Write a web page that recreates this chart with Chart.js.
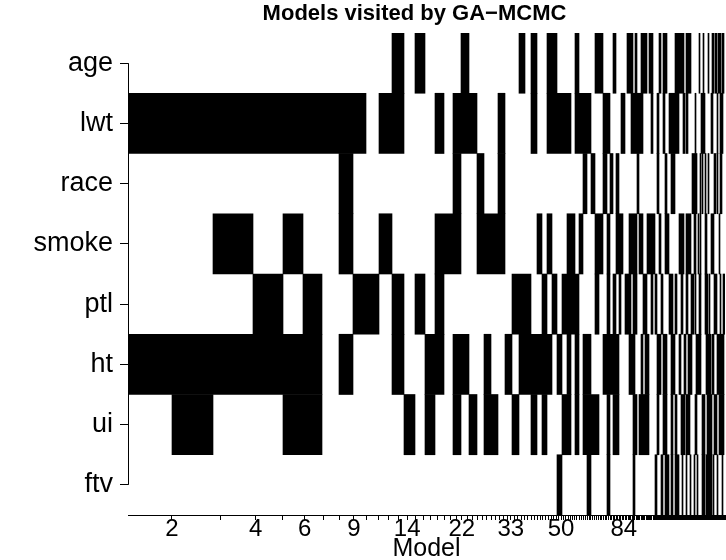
<!DOCTYPE html>
<html>
<head>
<meta charset="utf-8">
<script src="https://cdn.jsdelivr.net/npm/chart.js@4.4.1/dist/chart.umd.min.js"></script>
<style>
  html, body { margin: 0; padding: 0; background: #fff; }
  #wrap { width: 726px; height: 560px; }
</style>
</head>
<body>
<div id="wrap"><canvas id="chart" width="726" height="560"></canvas></div>
<script>
// rows, top to bottom
const variables = ["age", "lwt", "race", "smoke", "ptl", "ht", "ui", "ftv"];

// visits per model, models sorted by how often the sampler hit them
const modelFreq = [
  44, 41, 40, 30, 20, 19, 17, 14, 13, 13,
  13, 12, 11, 10, 10, 9, 9, 8, 8, 8,
  7, 7, 7, 7, 7, 7, 6, 6, 6, 5,
  5, 5, 5, 5, 5, 4, 4, 4, 4, 4,
  4, 4, 4, 4, 4, 3, 3, 3, 3, 2,
  2, 2, 2, 2, 2, 2, 2, 2, 2, 2,
  2, 2, 2, 2, 2, 2, 2, 2, 2, 2,
  2, 2, 2, 2, 2, 2, 2, 2, 2, 2,
  1, 1, 1, 1, 1, 1, 1, 1, 1, 1,
  1, 1, 1, 1, 1, 1, 1, 1, 1, 1,
  1, 1, 1, 1, 1, 1, 1, 1, 1, 1,
  1, 1, 1, 1, 1, 1, 1, 1, 1, 1,
  1, 1, 1, 1
];

// models (1-based rank) that contain each variable
const incAge = [12, 14, 19, 27, 29, 32, 33, 38, 43, 44, 48, 54, 55, 56, 58, 61, 62, 63, 65, 66,
  70, 72, 73, 78, 79, 80, 81, 82, 83, 86, 87, 88, 89, 90, 99, 103, 108, 112, 113, 115,
  116, 118, 119, 120, 122, 123];
const incLwt = [1, 2, 3, 4, 5, 6, 7, 8, 9, 11, 12, 16, 18, 19, 20, 24, 29, 32, 33, 34,
  35, 36, 38, 39, 40, 41, 45, 46, 51, 52, 56, 57, 58, 59, 60, 61, 66, 69, 72, 75,
  76, 77, 78, 79, 83, 84, 86, 87, 95, 101, 102, 103, 104, 111, 112, 117, 120, 121, 122];
const incRace = [8, 18, 21, 24, 40, 42, 45, 47, 49, 59, 69, 73, 76, 77, 92, 93, 94, 95, 96, 100,
  102, 105, 108, 114, 115, 117, 120, 121];
const incSmoke = [3, 5, 8, 11, 16, 17, 18, 21, 22, 23, 24, 30, 32, 36, 37, 39, 43, 44, 46, 49,
  50, 51, 55, 56, 57, 58, 60, 61, 64, 65, 66, 67, 70, 73, 74, 80, 81, 82, 83, 86,
  87, 88, 89, 90, 94, 95, 98, 100, 105, 106, 111, 112, 113, 119];
const incPtl = [4, 6, 9, 10, 12, 14, 16, 26, 27, 28, 31, 33, 35, 36, 37, 38, 43, 46, 48, 50,
  53, 54, 55, 57, 58, 62, 63, 66, 68, 71, 75, 76, 78, 81, 82, 86, 87, 91, 92, 93,
  95, 99, 100, 105, 106, 107, 109, 114, 115, 116, 120, 123, 124];
const incHt = [1, 2, 3, 4, 5, 6, 8, 12, 15, 16, 18, 19, 22, 25, 27, 28, 29, 30, 31, 32,
  34, 36, 38, 40, 41, 45, 46, 47, 48, 49, 55, 56, 57, 61, 63, 64, 69, 70, 72, 73,
  76, 77, 80, 84, 85, 88, 89, 90, 91, 96, 97, 98, 99, 100, 106, 107, 108, 109, 110, 112,
  113, 117, 118, 119, 120, 121, 122, 123];
const incUi = [2, 5, 6, 13, 15, 18, 20, 22, 23, 26, 29, 31, 35, 36, 38, 40, 41, 42, 43, 46,
  48, 49, 57, 58, 60, 61, 62, 63, 64, 69, 72, 73, 76, 78, 81, 82, 83, 84, 86, 87,
  88, 89, 95, 96, 102, 103, 104, 107, 108, 109, 110, 111, 114, 115, 116, 119, 120, 121, 122, 123];
const incFtv = [34, 41, 46, 57, 68, 71, 73, 74, 76, 78, 79, 82, 86, 90, 94, 97, 102, 103, 104, 106,
  107, 108, 109, 110, 111, 113, 117, 122];

// the model axis is logarithmic; labelled ticks and its visible range
const tickModels = [2, 4, 6, 9, 14, 22, 33, 50, 84];
const modelAxisMin = 1.39;
const modelAxisMax = 194;

const FONT = "'Liberation Sans', Arial, Helvetica, sans-serif";
const TITLE = "Models visited by GA\u2212MCMC";
const included = [incAge, incLwt, incRace, incSmoke, incPtl, incHt, incUi, incFtv];

// left edge of every model column (cumulative visits)
const edges = [0];
modelFreq.forEach(v => edges.push(edges[edges.length - 1] + v));
const total = edges[edges.length - 1];

// join neighbouring models into one block so no seams show
function blocks(models) {
  const out = [];
  let start = null, prev = null;
  [...models].sort((a, b) => a - b).forEach(m => {
    if (start !== null && m === prev + 1) { prev = m; return; }
    if (start !== null) out.push([start, prev]);
    start = m;
    prev = m;
  });
  if (start !== null) out.push([start, prev]);
  return out;
}

const datasets = variables.map((name, i) => ({
  label: name,
  data: blocks(included[i]).map(([a, b]) => ({ x: [edges[a - 1], edges[b]], y: name })),
  xAxisID: "x",
  backgroundColor: "#000",
  borderWidth: 0,
  grouped: false,
  barPercentage: 1,
  categoryPercentage: 1
}));

// R draws the y axis line only between the first and last tick
const yAxisLine = {
  id: "yAxisLine",
  afterDraw(chart) {
    const y = chart.scales.y;
    const ctx = chart.ctx;
    const x = Math.round(chart.chartArea.left) + 0.5;
    ctx.save();
    ctx.strokeStyle = "#000";
    ctx.lineWidth = 1;
    ctx.beginPath();
    ctx.moveTo(x, y.getPixelForValue(0));
    ctx.lineTo(x, y.getPixelForValue(variables.length - 1));
    ctx.stroke();
    ctx.restore();
  }
};

// main title, sitting a little left of the plot centre like the R output
const mainTitle = {
  id: "mainTitle",
  afterDraw(chart) {
    const { ctx, chartArea } = chart;
    ctx.save();
    ctx.fillStyle = "#000";
    ctx.font = "bold 22px " + FONT;
    ctx.textAlign = "center";
    ctx.textBaseline = "alphabetic";
    ctx.fillText(TITLE, (chartArea.left + chartArea.right) / 2 - 12, 20);
    ctx.restore();
  }
};

// one tick per model index across the visible range
const modelTicks = [];
for (let k = Math.ceil(modelAxisMin); k <= modelAxisMax; k++) modelTicks.push({ value: k });

new Chart(document.getElementById("chart"), {
  type: "bar",
  data: { labels: variables, datasets },
  plugins: [yAxisLine, mainTitle],
  options: {
    indexAxis: "y",
    responsive: false,
    animation: false,
    layout: { padding: { left: 0, right: 1, top: 33, bottom: 0 } },
    plugins: {
      legend: { display: false },
      tooltip: { enabled: false },
      title: { display: false }
    },
    scales: {
      x: {
        type: "linear",
        display: false,
        min: 0,
        max: total
      },
      model: {
        type: "logarithmic",
        position: "bottom",
        axis: "x",
        min: modelAxisMin,
        max: modelAxisMax,
        afterFit(scale) { scale.height = 45; },
        afterBuildTicks(scale) { scale.ticks = modelTicks.map(t => ({ value: t.value })); },
        grid: { drawOnChartArea: false, tickLength: 5, color: "#000" },
        border: { color: "#000" },
        ticks: {
          autoSkip: false,
          maxRotation: 0,
          minRotation: 0,
          color: "#000",
          padding: -5,
          font: { family: FONT, size: 24 },
          callback(value) { return tickModels.includes(value) ? String(value) : ""; }
        },
        title: {
          display: true,
          text: "Model",
          color: "#000",
          font: { family: FONT, size: 25 },
          padding: { top: 0, bottom: -4.3 }
        }
      },
      y: {
        type: "category",
        afterFit(scale) { scale.width = 128; },
        grid: { drawOnChartArea: false, tickLength: 8, color: "#000", offset: false },
        border: { display: false },
        ticks: { color: "#000", padding: 7, font: { family: FONT, size: 27 } }
      }
    }
  }
});
</script>
</body>
</html>
